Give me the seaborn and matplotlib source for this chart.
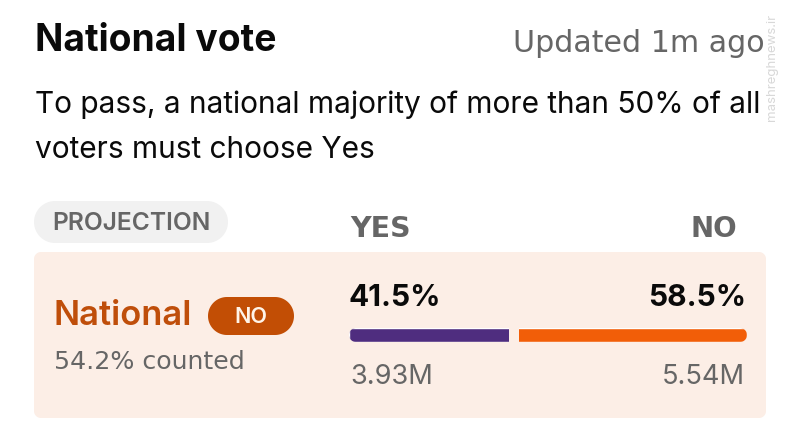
import matplotlib
matplotlib.use("Agg")
import matplotlib.pyplot as plt
from matplotlib.patches import PathPatch
from matplotlib.path import Path
import numpy as np
import pandas as pd
import seaborn as sns

options = ["YES", "NO"]
shares = [41.5, 58.5]
share_labels = ["41.5%", "58.5%"]
vote_labels = ["3.93M", "5.54M"]
bar_colors = ["#4F2D7F", "#F25E08"]

sns.set_theme(style="white")
plt.rcParams["font.family"] = ["Inter", "DejaVu Sans"]

W, H = 800, 432
fig = plt.figure(figsize=(8, 4.32), dpi=100, facecolor="white")
bg = fig.add_axes([0, 0, 1, 1])
bg.set_xlim(0, W); bg.set_ylim(H, 0); bg.axis("off")

def pill(x0, y0, x1, y1, r, color):
    a = np.linspace(0, np.pi / 2, 24)
    xs = np.r_[x1 - r + r * np.cos(a), x0 + r - r * np.sin(a), x0 + r - r * np.cos(a), x1 - r + r * np.sin(a)]
    ys = np.r_[y1 - r + r * np.sin(a), y1 - r + r * np.cos(a), y0 + r - r * np.sin(a), y0 + r - r * np.cos(a)]
    patch = PathPatch(Path(np.c_[xs, ys], closed=False), fc=color, ec="none")
    bg.add_patch(patch)
    return patch

PANEL = "#FCEEE6"
GREY = "#666666"
pill(34, 252, 766, 418, 7, PANEL)
pill(34, 201, 228, 243, 21, "#F1F1F1")
pill(208, 297, 294, 335, 19, "#C24E05")

def t(x, y, s, size, color="#0A0A0A", weight="normal", ha="left", family=None):
    bg.text(x, y, s, fontsize=size, color=color, fontweight=weight, ha=ha, va="center",
            family=family or ["Inter", "DejaVu Sans"])

WIDE = ["DejaVu Sans"]
t(35, 41, "National vote", 26.8, weight="bold")
t(765, 43, "Updated 1m ago", 21.7, color=GREY, ha="right", family=WIDE)
t(35, 105, "To pass, a national majority of more than 50% of all", 21.5)
t(35, 150, "voters must choose Yes", 21.5)
t(52, 224, "PROJECTION", 17.7, color=GREY, weight="semibold")
t(350, 229, options[0], 20.5, color=GREY, weight="bold", family=WIDE)
t(737, 229, options[1], 20, color=GREY, weight="bold", ha="right", family=WIDE)
t(54, 316, "National", 24.8, color="#BF4E0A", weight="semibold")
t(251, 317, "NO", 15.5, color="#FFF4E8", weight="semibold", ha="center")
t(54, 362, "54.2% counted", 18.2, color=GREY, family=WIDE)
t(349, 298, share_labels[0], 21.5, weight="bold")
t(746, 298, share_labels[1], 21.5, weight="bold", ha="right")
t(350, 377, vote_labels[0], 19.6, color=GREY)
t(745, 377, vote_labels[1], 19.6, color=GREY, ha="right")
bg.text(772, 67, "mashreghnews.ir", fontsize=9.5, color="#D8D8D8", rotation=90,
        ha="center", va="center")

# Stacked share bar, on its own axes spanning 0-100 %
x0, x1, y0, y1 = 349, 747, 328, 342
ax = fig.add_axes([x0 / W, 1 - y1 / H, (x1 - x0) / W, (y1 - y0) / H])
ax.patch.set_alpha(0)
df = pd.DataFrame({"row": ["National"] * 2, "option": options, "share": shares})
lefts = [0, shares[0]]
for (_, r), left, c in zip(df.iterrows(), lefts, bar_colors):
    sns.barplot(data=r.to_frame().T, x="share", y="row", left=left, color=c,
                width=1.0, saturation=1, ax=ax, orient="h")
ax.set_xlim(0, 100)
ax.set_ylim(0.5, -0.5)
ax.axis("off")
clip = pill(x0, y0, x1, y1, 7, "none")
for p in ax.patches:
    p.set_clip_path(clip)
# the 10 px gap between the two bars sits on the boundary
ax.axvline(shares[0], color=PANEL, lw=10 * 72 / 100)

fig.savefig("out.png", dpi=100, facecolor="white")
